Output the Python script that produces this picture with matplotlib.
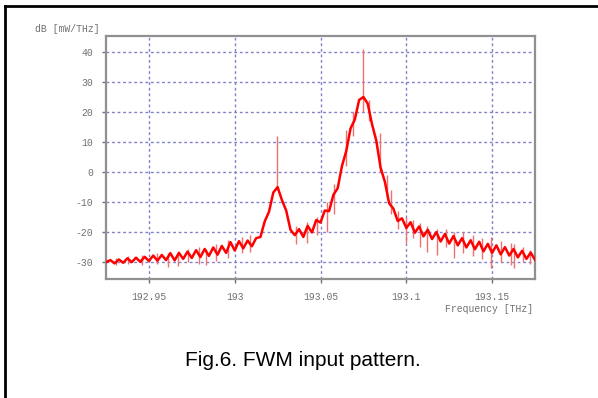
import matplotlib
matplotlib.use("Agg")
import matplotlib.pyplot as plt
from matplotlib.lines import Line2D

plt.rcParams["axes.unicode_minus"] = False

# spectrum trace (THz, dB)
freq = [192.9250, 192.9275, 192.9300, 192.9325, 192.9350, 192.9375, 192.9400, 192.9425,
        192.9450, 192.9475, 192.9500, 192.9525, 192.9550, 192.9575, 192.9600, 192.9625,
        192.9650, 192.9675, 192.9700, 192.9725, 192.9750, 192.9775, 192.9800, 192.9825,
        192.9850, 192.9875, 192.9900, 192.9925, 192.9950, 192.9975, 193.0000, 193.0025,
        193.0050, 193.0075, 193.0100, 193.0125, 193.0150, 193.0175, 193.0200, 193.0225,
        193.0250, 193.0275, 193.0300, 193.0325, 193.0350, 193.0375, 193.0400, 193.0425,
        193.0450, 193.0475, 193.0500, 193.0525, 193.0550, 193.0575, 193.0600, 193.0625,
        193.0650, 193.0675, 193.0700, 193.0725, 193.0750, 193.0775, 193.0800, 193.0825,
        193.0850, 193.0875, 193.0900, 193.0925, 193.0950, 193.0975, 193.1000, 193.1025,
        193.1050, 193.1075, 193.1100, 193.1125, 193.1150, 193.1175, 193.1200, 193.1225,
        193.1250, 193.1275, 193.1300, 193.1325, 193.1350, 193.1375, 193.1400, 193.1425,
        193.1450, 193.1475, 193.1500, 193.1525, 193.1550, 193.1575, 193.1600, 193.1625,
        193.1650, 193.1675, 193.1700, 193.1725, 193.1750]
level = [-30.0, -29.3, -30.4, -29.1, -30.2, -28.7, -30.0, -28.5,
         -29.9, -28.2, -29.6, -27.8, -29.5, -27.6, -29.3, -27.0,
         -29.4, -26.9, -28.9, -26.5, -28.6, -26.0, -28.3, -25.6,
         -27.9, -25.1, -27.5, -24.6, -26.9, -23.3, -26.1, -23.0,
         -25.4, -22.8, -24.7, -22.0, -21.6, -16.4, -13.2, -6.8,
         -5.0, -9.3, -12.8, -19.2, -21.0, -19.0, -21.6, -17.9,
         -20.1, -16.0, -16.8, -12.8, -13.0, -7.6, -5.4, 2.0,
         7.0, 14.5, 17.5, 24.0, 25.0, 22.8, 16.0, 10.5,
         1.5, -3.2, -10.4, -12.2, -16.3, -15.4, -18.6, -16.7,
         -20.2, -18.1, -21.4, -19.2, -22.3, -20.0, -23.1, -20.6,
         -23.8, -21.3, -24.4, -22.0, -25.1, -22.7, -25.7, -23.2,
         -26.4, -23.9, -26.9, -24.4, -27.4, -25.0, -27.8, -25.6,
         -28.4, -26.2, -28.9, -26.8, -29.2]

# noise spikes (position, bottom, top)
spike_f = [192.931, 192.938, 192.946, 192.955, 192.961, 192.967, 192.973, 192.979,
           192.983, 192.989, 192.996, 193.004, 193.009, 193.0247, 193.036, 193.042,
           193.048, 193.054, 193.058, 193.0649, 193.0688, 193.0748, 193.0785, 193.0846,
           193.0885, 193.091, 193.095, 193.0998, 193.104, 193.108, 193.112, 193.118,
           193.123, 193.128, 193.133, 193.139, 193.144, 193.1495, 193.155, 193.161,
           193.163, 193.168, 193.172]
spike_lo = [-31, -30.5, -31, -30.5, -31.5, -31.3, -30, -30.5,
            -31, -29.5, -28.5, -27, -26.5, -6, -24, -23.5,
            -21, -20, -14, 2, 12, 20, 17, 0,
            -9, -14, -19, -23.7, -22, -25, -26.7, -27.7,
            -25, -28.7, -27, -28, -29, -32, -30, -31,
            -32, -30, -30.5]
spike_hi = [-28.5, -28, -27.5, -27, -27, -26.5, -25.5, -25,
            -25.5, -24, -22.5, -21.5, -21, 12, -18, -16.5,
            -15, -10, -4, 14, 20, 41, 24, 13,
            -1, -6, -13, -15, -16, -17, -18, -19,
            -19, -20, -20, -21, -22, -21.7, -23, -23.5,
            -24, -25, -26]

xticks = [192.95, 193.0, 193.05, 193.1, 193.15]
xlabels = ["192.95", "193", "193.05", "193.1", "193.15"]
yticks = [-30, -20, -10, 0, 10, 20, 30, 40]

mono = ["Liberation Mono", "DejaVu Sans Mono"]
grey = "#707070"

fig = plt.figure(figsize=(5.98, 3.98), dpi=100)
ax = fig.add_axes([106 / 598, 1 - 279 / 398, 429 / 598, 243 / 398])

ax.vlines(spike_f, spike_lo, spike_hi, color="#f07070", linewidth=1.0, zorder=3)
ax.plot(freq, level, color="#ff0000", linewidth=1.8, zorder=4)

ax.set_xlim(192.925, 193.175)
ax.set_ylim(-35.6, 45.3)
ax.set_xticks(xticks)
ax.set_xticklabels(xlabels)
ax.set_yticks(yticks)
ax.grid(True, color="#8080c8", linestyle=(0, (2, 2)), linewidth=1.0)
ax.tick_params(length=3, width=1, color=grey, labelsize=7, labelcolor=grey, pad=6)
for lab in ax.get_xticklabels() + ax.get_yticklabels():
    lab.set_family(mono)
for s in ax.spines.values():
    s.set_color("#909090")
    s.set_linewidth(1.6)

fig.text(35 / 598, 1 - 29 / 398, "dB [mW/THz]", family=mono, size=7, color=grey, va="center")
fig.text(533 / 598, 1 - 309 / 398, "Frequency [THz]", family=mono, size=7, color=grey,
         va="center", ha="right")
fig.text(303 / 598, 1 - 360 / 398, "Fig.6. FWM input pattern.", family="Liberation Sans",
         size=15, ha="center", va="center")

# frame around the figure (its right and bottom sides are cut off)
fig.add_artist(Line2D([5 / 598, 5 / 598], [0, 1 - 6 / 398], color="black", linewidth=2))
fig.add_artist(Line2D([5 / 598, 1], [1 - 6 / 398, 1 - 6 / 398], color="black", linewidth=2))

fig.savefig("out.png", dpi=100)
